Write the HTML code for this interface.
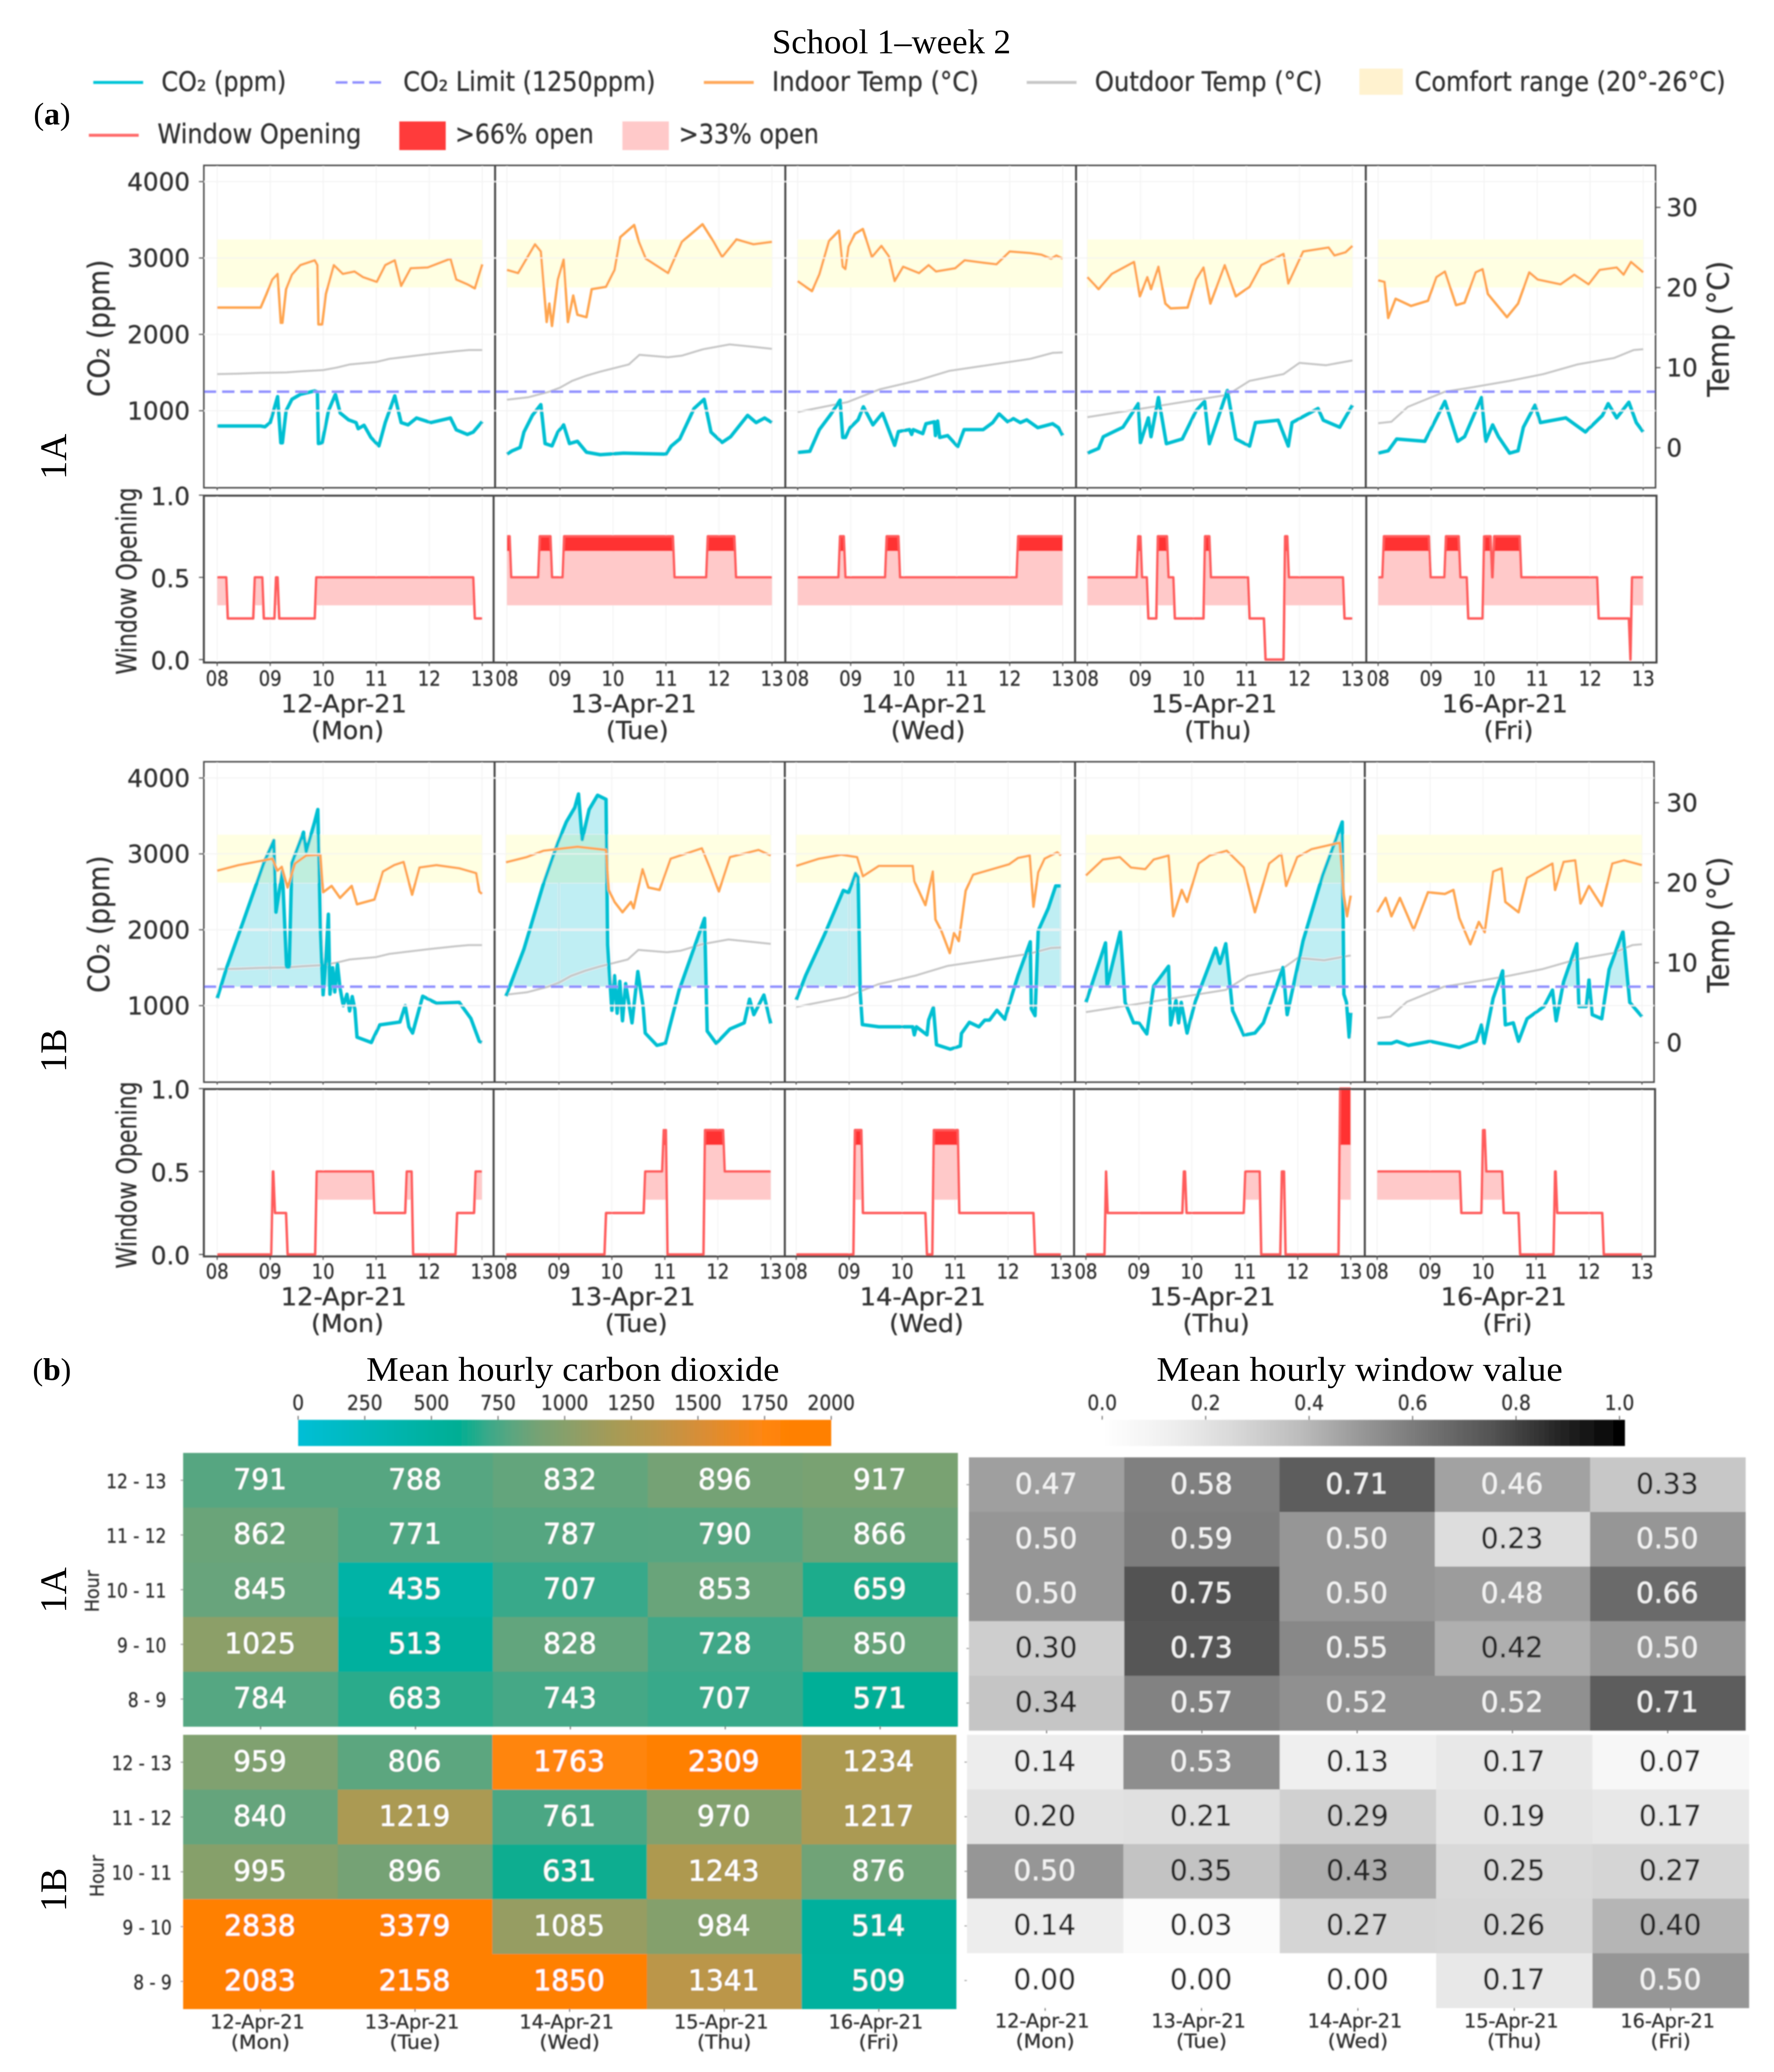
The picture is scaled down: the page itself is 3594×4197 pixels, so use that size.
<!DOCTYPE html>
<html lang="en">
<head>
<meta charset="utf-8">
<title>School 1–week 2</title>
<style>
html,body{margin:0;padding:0;background:#fff;}
svg{display:block;}
.s{font-family:"DejaVu Sans","Liberation Sans",sans-serif;fill:#333;stroke:#333;stroke-width:0.6;}
.r{font-family:"Liberation Serif",serif;fill:#000;}
</style>
</head>
<body>
<svg id="figure" xmlns="http://www.w3.org/2000/svg" width="3594" height="4197" viewBox="0 0 3594 4197">
<defs id="defs">
<filter id="soft" filterUnits="userSpaceOnUse" x="0" y="0" width="3594" height="4197"><feGaussianBlur stdDeviation="1.2"/></filter>
</defs>
<rect x="0" y="0" width="3594" height="4197" fill="#fff"/>
<text class="r" x="1564" y="108" font-size="70" textLength="484" lengthAdjust="spacingAndGlyphs">School 1–week 2</text>
<text class="r" x="68" y="252" font-size="64">(<tspan font-weight="bold">a</tspan>)</text>
<text class="r" x="66" y="2795" font-size="64">(<tspan font-weight="bold">b</tspan>)</text>

<g filter="url(#soft)">
<line x1="189" x2="290" y1="167" y2="167" stroke="#00c4d8" stroke-width="6"/>
<text class="s" x="327" y="184" font-size="54" textLength="253" lengthAdjust="spacingAndGlyphs">CO₂ (ppm)</text>
<line x1="680" x2="777" y1="167" y2="167" stroke="#8f8fff" stroke-width="5" stroke-dasharray="24 10"/>
<text class="s" x="817" y="184" font-size="54" textLength="511" lengthAdjust="spacingAndGlyphs">CO₂ Limit (1250ppm)</text>
<line x1="1426" x2="1527" y1="167" y2="167" stroke="#ffa85a" stroke-width="6"/>
<text class="s" x="1564" y="184" font-size="54" textLength="419" lengthAdjust="spacingAndGlyphs">Indoor Temp (°C)</text>
<line x1="2080" x2="2181" y1="167" y2="167" stroke="#c8c8c8" stroke-width="6"/>
<text class="s" x="2218" y="184" font-size="54" textLength="461" lengthAdjust="spacingAndGlyphs">Outdoor Temp (°C)</text>
<rect x="2754" y="139" width="88" height="53" fill="#fff2cf"/>
<text class="s" x="2866" y="184" font-size="54" textLength="630" lengthAdjust="spacingAndGlyphs">Comfort range (20°-26°C)</text>
<line x1="180" x2="281" y1="274" y2="274" stroke="#ff6a6a" stroke-width="6"/>
<text class="s" x="319" y="290" font-size="54" textLength="413" lengthAdjust="spacingAndGlyphs">Window Opening</text>
<rect x="809" y="246" width="94" height="58" fill="#ff3b3b"/>
<text class="s" x="922" y="290" font-size="54" textLength="281" lengthAdjust="spacingAndGlyphs">&gt;66% open</text>
<rect x="1261" y="246" width="94" height="58" fill="#ffc9c9"/>
<text class="s" x="1375" y="290" font-size="54" textLength="284" lengthAdjust="spacingAndGlyphs">&gt;33% open</text>
</g>

<g id="charts" filter="url(#soft)"></g>
<g id="heatmaps" filter="url(#soft)"></g>

<text class="r" transform="translate(134 925) rotate(-90)" font-size="76" text-anchor="middle">1A</text>
<text class="r" transform="translate(134 2128) rotate(-90)" font-size="76" text-anchor="middle">1B</text>
<text class="r" transform="translate(134 3221) rotate(-90)" font-size="76" text-anchor="middle">1A</text>
<text class="r" transform="translate(134 3828) rotate(-90)" font-size="76" text-anchor="middle">1B</text>
<text class="r" x="742" y="2797" font-size="70" textLength="837" lengthAdjust="spacingAndGlyphs">Mean hourly carbon dioxide</text>
<text class="r" x="2343" y="2797" font-size="70" textLength="823" lengthAdjust="spacingAndGlyphs">Mean hourly window value</text>
</svg>
<script>
/* ---------- categorical labels ---------- */
const dayLabels = ['12-Apr-21','13-Apr-21','14-Apr-21','15-Apr-21','16-Apr-21'];
const weekdayLabels = ['(Mon)','(Tue)','(Wed)','(Thu)','(Fri)'];
const hourTicks = [8,9,10,11,12,13];
const hourTickLabels = ['08','09','10','11','12','13'];
const co2Ticks = [1000,2000,3000,4000];
const tempTicks = [0,10,20,30];
const windowTicks = [0,0.5,1];
const rowLabels = ['12 - 13','11 - 12','10 - 11','9 - 10','8 - 9'];
const co2BarTicks = [0,250,500,750,1000,1250,1500,1750,2000];
const windowBarTicks = [0,0.2,0.4,0.6,0.8,1];
const co2Limit = 1250;
const comfortRange = [20,26];
const windowThresholds = [0.33,0.66];

/* ---------- outdoor temperature (°C), [hour, value] ---------- */
const outdoorMon = [[8,9.2],[8.4,9.25],[8.8,9.35],[9.3,9.4],[9.6,9.55],[10,9.7],[10.25,10],[10.5,10.4],[11,10.7],[11.25,11.1],[11.5,11.3],[12,11.7],[12.5,12.05],[12.75,12.2],[13,12.2]];
const outdoorTue = [[8,6],[8.4,6.3],[8.8,7],[9,7.5],[9.23,8.35],[9.5,9],[9.76,9.5],[10.3,10.4],[10.5,11.6],[11.04,11.3],[11.3,11.5],[11.7,12.3],[12.2,12.9],[12.65,12.6],[13,12.35]];
const outdoorWed = [[8,4.47],[8.94,5.7],[9.55,7.3],[10.26,8.4],[10.86,9.6],[11.68,10.4],[12.39,11.1],[12.81,11.84],[13,11.9]];
const outdoorThu = [[8,3.82],[8.94,4.8],[9.79,5.7],[10.64,6.6],[11.06,8.35],[11.7,9.2],[12.0,10.6],[12.5,10.3],[13,10.9]];
const outdoorFri = [[8,3.06],[8.25,3.25],[8.56,5.1],[9.26,7],[9.73,7.5],[10.48,8.35],[11.12,9.2],[11.76,10.4],[12.45,11.2],[12.82,12.2],[13,12.3]];

/* ---------- room 1A CO2 (ppm) ---------- */
const co2A_Mon = [[8,800],[8.82,800],[8.9,790],[9,845],[9.14,1185],[9.2,580],[9.23,580],[9.3,1000],[9.41,1150],[9.57,1215],[9.84,1260],[9.89,1245],[9.91,570],[9.98,580],[10.1,1000],[10.23,1215],[10.32,970],[10.48,880],[10.62,845],[10.66,765],[10.77,810],[10.9,650],[11.05,540],[11.17,845],[11.35,1195],[11.47,845],[11.6,815],[11.76,905],[12.03,845],[12.4,905],[12.51,750],[12.72,690],[12.83,720],[13,860]];
const co2A_Tue = [[8,432],[8.1,475],[8.25,520],[8.32,720],[8.48,940],[8.64,1080],[8.72,570],[8.85,540],[8.96,720],[9.07,815],[9.18,570],[9.33,600],[9.5,457],[9.76,425],[10.2,445],[11,432],[11.1,537],[11.26,630],[11.53,1030],[11.72,1150],[11.85,720],[12.06,585],[12.22,660],[12.54,940],[12.7,845],[12.86,905],[13,845]];
const co2A_Wed = [[8,454],[8.23,469],[8.41,753],[8.62,948],[8.8,1139],[8.85,650],[8.9,650],[8.99,778],[9.14,881],[9.24,1052],[9.42,815],[9.6,969],[9.83,547],[9.9,727],[10.11,753],[10.15,690],[10.18,753],[10.36,700],[10.42,830],[10.58,855],[10.6,675],[10.64,865],[10.68,650],[10.83,675],[11.02,531],[11.14,753],[11.36,753],[11.5,753],[11.68,845],[11.8,959],[11.96,856],[12.07,897],[12.2,845],[12.32,881],[12.53,778],[12.81,830],[12.92,778],[13,675]];
const co2A_Thu = [[8,445],[8.21,507],[8.3,660],[8.67,784],[8.96,1093],[9,580],[9.15,907],[9.2,660],[9.34,1173],[9.49,568],[9.79,630],[10.05,1000],[10.21,1123],[10.3,568],[10.64,1265],[10.8,630],[11.06,537],[11.17,845],[11.6,876],[11.79,537],[11.86,845],[12.35,1030],[12.45,876],[12.76,784],[13,1074]];
const co2A_Fri = [[8,445],[8.19,476],[8.35,630],[8.88,600],[9.26,1123],[9.5,600],[9.63,660],[9.95,1173],[10.03,600],[10.16,815],[10.27,660],[10.48,445],[10.64,476],[10.74,784],[10.96,1074],[11.06,845],[11.54,907],[11.91,722],[12.23,938],[12.34,1093],[12.5,907],[12.73,1111],[12.87,845],[13,722]];

/* ---------- room 1A indoor temperature (°C) ---------- */
const inA_Mon = [[8,17.5],[8.82,17.5],[8.93,19.2],[9.04,21],[9.14,21.7],[9.2,15.6],[9.23,15.6],[9.3,19.8],[9.41,21.6],[9.57,22.8],[9.84,23.4],[9.89,22.8],[9.91,15.4],[9.98,15.4],[10.05,19.2],[10.2,22.8],[10.37,21.7],[10.59,22],[10.75,21.3],[11.01,20.7],[11.17,22.8],[11.35,23.4],[11.47,20.2],[11.65,22.4],[11.97,22.5],[12.4,23.6],[12.51,21],[12.72,20.4],[12.86,19.9],[13,22.9]];
const inA_Tue = [[8,22.2],[8.21,21.8],[8.53,25.4],[8.64,24.5],[8.75,15.7],[8.8,18],[8.85,15.2],[8.96,21],[9.07,23.5],[9.15,15.7],[9.25,19],[9.33,16.6],[9.5,16.3],[9.6,19.8],[9.87,20.1],[10.03,22.2],[10.14,26.3],[10.4,27.8],[10.49,25.7],[10.62,23.6],[11.04,21.8],[11.3,25.7],[11.69,27.9],[11.9,25.7],[12.06,23.8],[12.33,26],[12.65,25.4],[13,25.7]];
const inA_Wed = [[8,20.8],[8.27,19.55],[8.41,21.66],[8.59,25.8],[8.78,27.1],[8.85,22.6],[8.9,22.3],[8.96,25.1],[9.08,26.7],[9.23,27.3],[9.4,23.8],[9.58,25.2],[9.72,23.9],[9.83,20.8],[9.99,22.6],[10.29,21.8],[10.47,22.8],[10.61,22],[10.97,22.4],[11.15,23.4],[11.5,23.1],[11.75,22.9],[12,24.5],[12.39,24.3],[12.6,24.1],[12.78,23.6],[12.88,24],[13,23.6]];
const inA_Thu = [[8,21.3],[8.21,19.8],[8.46,21.7],[8.88,23.2],[8.99,18.9],[9.13,21.3],[9.2,19.8],[9.34,22.6],[9.47,18],[9.57,17.4],[9.89,17.5],[10.05,21],[10.19,22.5],[10.32,18],[10.59,22.8],[10.8,18.9],[11.06,20.1],[11.28,22.8],[11.7,24.2],[11.79,20.5],[12.07,24.5],[12.55,25],[12.66,24],[12.87,24.4],[13,25.2]];
const inA_Fri = [[8,20.9],[8.12,20.7],[8.19,16.2],[8.33,18.6],[8.62,17.7],[8.94,18.35],[9.1,21.3],[9.26,22],[9.47,17.8],[9.63,18.1],[9.84,21.9],[9.97,22.3],[10.07,19.2],[10.43,16.3],[10.64,18],[10.85,21.9],[11.01,21],[11.44,20.4],[11.7,21.6],[11.97,20.4],[12.18,22.2],[12.5,22.5],[12.63,21.6],[12.77,23.2],[13,21.9]];

/* ---------- room 1A window position, [start hour, value] ---------- */
const winA_Mon = [[8,0.5],[8.17,0.25],[8.68,0.5],[8.85,0.25],[9.08,0.5],[9.14,0.25],[9.84,0.5],[12.83,0.25]];
const winA_Tue = [[8,0.75],[8.05,0.5],[8.59,0.75],[8.82,0.5],[9.05,0.75],[11.13,0.5],[11.76,0.75],[12.29,0.5]];
const winA_Wed = [[8,0.5],[8.77,0.75],[8.87,0.5],[9.65,0.75],[9.9,0.5],[12.13,0.75]];
const winA_Thu = [[8,0.5],[8.93,0.75],[9,0.5],[9.12,0.25],[9.3,0.75],[9.5,0.5],[9.62,0.25],[10.19,0.75],[10.3,0.5],[11.03,0.25],[11.33,0],[11.7,0.75],[11.77,0.5],[12.82,0.25]];
const winA_Fri = [[8,0.5],[8.08,0.75],[8.96,0.5],[9.25,0.75],[9.52,0.5],[9.67,0.25],[9.97,0.75],[10.12,0.5],[10.16,0.75],[10.67,0.5],[12.13,0.25],[12.73,0],[12.76,0.5]];

/* ---------- room 1B CO2 (ppm) ---------- */
const co2B_Mon = [[8,1097],[8.18,1503],[8.5,2124],[8.88,2881],[9.07,3178],[9.11,2232],[9.23,2773],[9.31,1513],[9.36,1513],[9.41,2881],[9.63,3286],[9.68,3032],[9.84,3421],[9.9,3584],[9.95,2016],[10,1140],[10.05,1600],[10.1,2205],[10.13,1150],[10.18,1500],[10.22,1180],[10.27,1550],[10.32,1230],[10.38,1000],[10.45,1150],[10.5,930],[10.55,1120],[10.6,950],[10.64,584],[10.91,514],[11.07,746],[11.45,784],[11.55,1000],[11.62,720],[11.69,638],[11.88,1124],[12.14,1032],[12.57,1043],[12.79,830],[12.95,530],[13,514]];
const co2B_Tue = [[8,1124],[8.34,1746],[8.71,2611],[8.98,3151],[9.14,3421],[9.3,3611],[9.37,3789],[9.44,3189],[9.57,3584],[9.73,3773],[9.89,3719],[9.92,1800],[10,935],[10.05,1395],[10.1,900],[10.15,1320],[10.2,800],[10.26,1290],[10.38,773],[10.49,1449],[10.59,990],[10.63,638],[10.85,476],[11.01,503],[11.27,1205],[11.75,2151],[11.8,665],[11.97,503],[12.23,692],[12.5,773],[12.6,1086],[12.68,881],[12.87,1140],[13,762]];
const co2B_Wed = [[8,1075],[8.18,1399],[8.53,1929],[8.89,2519],[8.99,2490],[9.12,2743],[9.17,2695],[9.21,1163],[9.25,750],[9.56,721],[10.2,721],[10.23,615],[10.27,721],[10.47,615],[10.5,809],[10.59,975],[10.65,485],[10.91,426],[11.1,468],[11.12,633],[11.27,780],[11.45,721],[11.56,809],[11.65,809],[11.79,939],[11.94,821],[12.02,1016],[12.19,1399],[12.42,1841],[12.44,957],[12.51,868],[12.57,1988],[12.76,2283],[12.9,2578],[13,2578]];
const co2B_Thu = [[8,1043],[8.37,1827],[8.4,1259],[8.65,1978],[8.74,1043],[8.9,773],[9,773],[9.15,627],[9.28,1259],[9.56,1519],[9.6,746],[9.7,1070],[9.75,773],[9.8,1043],[9.91,638],[10.06,1043],[10.45,1757],[10.53,1557],[10.64,1816],[10.77,935],[10.98,611],[11.19,638],[11.35,773],[11.72,1503],[11.8,881],[12.1,1854],[12.47,2719],[12.84,3421],[12.87,1151],[12.92,1043],[12.97,584],[13,908]];
const co2B_Fri = [[8,503],[8.27,503],[8.37,530],[8.59,476],[9,530],[9.55,449],[9.87,530],[9.97,746],[10.02,503],[10.19,1097],[10.37,1459],[10.42,746],[10.57,773],[10.67,530],[10.83,827],[11.15,989],[11.31,1205],[11.38,800],[11.52,1313],[11.77,1816],[11.81,989],[11.95,989],[12,1340],[12.06,881],[12.24,827],[12.38,1476],[12.64,1978],[12.77,1043],[13,854]];

/* ---------- room 1B indoor temperature (°C) ---------- */
const inB_Mon = [[8,21.5],[8.4,22.2],[9.04,23],[9.14,21.5],[9.22,22],[9.33,19.4],[9.47,22.4],[9.68,23.4],[9.95,23.5],[10,18.8],[10.16,19.6],[10.32,18.1],[10.54,19.6],[10.64,17.3],[10.97,17.9],[11.13,21.4],[11.34,22.2],[11.52,22.6],[11.68,18.5],[11.82,21.9],[12.14,22.2],[12.57,21.8],[12.89,21.2],[12.95,18.9],[13,18.6]];
const inB_Tue = [[8,22.55],[8.39,23.2],[8.71,24],[9.35,24.5],[9.89,24.1],[9.94,19.1],[10.05,17.6],[10.2,16.3],[10.36,17.6],[10.41,16.8],[10.58,21.7],[10.69,19.4],[10.9,19.1],[11.11,23],[11.7,24.3],[11.86,21.7],[12.02,18.9],[12.23,23.2],[12.77,24.1],[13,23.4]];
const inB_Wed = [[8,22.1],[8.43,23],[8.85,23.5],[9.15,23.2],[9.26,20.8],[9.56,22.1],[10.2,22.1],[10.23,20.2],[10.44,17.2],[10.58,21.4],[10.63,15.4],[10.74,14],[10.9,11.2],[10.98,13.7],[11.07,12.7],[11.2,19],[11.34,21],[12.02,22.3],[12.19,23.1],[12.41,23.4],[12.48,17],[12.57,21.3],[12.69,23],[12.93,23.8],[13,23.4]];
const inB_Thu = [[8,20.9],[8.32,22.9],[8.64,23.2],[8.85,21.9],[9.12,21.7],[9.28,22.9],[9.56,23.4],[9.65,15.8],[9.81,19.1],[9.91,17.6],[10.13,22.4],[10.34,23.4],[10.66,24],[10.98,21.9],[11.19,16.3],[11.46,22.4],[11.69,23.6],[11.78,19.6],[11.99,23.2],[12.26,24.2],[12.79,25],[12.87,18.4],[12.93,15.8],[13,18.4]];
const inB_Fri = [[8,16.3],[8.16,18.1],[8.27,15.8],[8.43,18.1],[8.69,14.1],[8.96,18.8],[9.28,18.6],[9.44,19.1],[9.55,15.6],[9.76,12.3],[9.92,15.1],[10.03,13.8],[10.19,21.4],[10.35,21.8],[10.42,17.6],[10.67,16.3],[10.83,20.6],[11.31,22.4],[11.36,19.1],[11.52,22.6],[11.74,22.8],[11.84,17.4],[12,19.6],[12.24,17.1],[12.44,22.4],[12.66,22.8],[13,22.2]];

/* ---------- room 1B window position, [start hour, value] ---------- */
const winB_Mon = [[8,0],[9.02,0.5],[9.06,0.25],[9.3,0],[9.85,0.5],[10.94,0.25],[11.55,0.5],[11.67,0],[12.5,0.25],[12.85,0.5]];
const winB_Tue = [[8,0],[9.86,0.25],[10.6,0.5],[10.95,0.75],[11.02,0],[11.73,0.75],[12.1,0.5]];
const winB_Wed = [[8,0],[9.08,0.75],[9.23,0.25],[10.44,0],[10.57,0.75],[11.05,0.25],[12.48,0]];
const winB_Thu = [[8,0],[8.35,0.5],[8.38,0.25],[9.82,0.5],[9.87,0.25],[10.98,0.5],[11.28,0],[11.67,0.5],[11.74,0],[12.77,1]];
const winB_Fri = [[8,0.5],[9.56,0.25],[9.97,0.75],[10.03,0.5],[10.36,0.25],[10.67,0],[11.33,0.5],[11.37,0.25],[12.25,0]];

/* ---------- heatmap values (rows top to bottom, columns Mon to Fri) ---------- */
const heatCo2A = [[791,788,832,896,917],[862,771,787,790,866],[845,435,707,853,659],[1025,513,828,728,850],[784,683,743,707,571]];
const heatCo2B = [[959,806,1763,2309,1234],[840,1219,761,970,1217],[995,896,631,1243,876],[2838,3379,1085,984,514],[2083,2158,1850,1341,509]];
const heatWinA = [[0.47,0.58,0.71,0.46,0.33],[0.50,0.59,0.50,0.23,0.50],[0.50,0.75,0.50,0.48,0.66],[0.30,0.73,0.55,0.42,0.50],[0.34,0.57,0.52,0.52,0.71]];
const heatWinB = [[0.14,0.53,0.13,0.17,0.07],[0.20,0.21,0.29,0.19,0.17],[0.50,0.35,0.43,0.25,0.27],[0.14,0.03,0.27,0.26,0.40],[0.00,0.00,0.00,0.17,0.50]];

const cmapCo2 = [[0,'#00bfd6'],[600,'#00ae94'],[660,'#1eac8c'],[707,'#38a98a'],[800,'#5aa680'],[900,'#76a274'],[1000,'#87a06b'],[1100,'#999c60'],[1220,'#ab9a52'],[1340,'#bb964a'],[1500,'#d68e38'],[1750,'#ff8610'],[1850,'#ff8000'],[2000,'#ff8000']];
const cmapGrey = [[0,'#ffffff'],[0.125,'#f0f0f0'],[0.25,'#d9d9d9'],[0.375,'#bdbdbd'],[0.5,'#969696'],[0.625,'#737373'],[0.75,'#525252'],[0.875,'#252525'],[1,'#000000']];

/* ---------- drawing ---------- */
const NS = 'http://www.w3.org/2000/svg';
const defs = document.getElementById('defs');
const chartsRoot = document.getElementById('charts');
const heatRoot = document.getElementById('heatmaps');

function mk(parent, tag, name, attrs) {
  const el = document.createElementNS(NS, tag);
  
  
  for (const k in attrs) el.setAttribute(k, attrs[k]);
  parent.appendChild(el);
  return el;
}
function label(parent, name, str, x, y, size, anchor, sx, fill) {
  const el = mk(parent, 'text', name, {
    class: 's', 'font-size': size, 'text-anchor': anchor || 'middle',
    transform: 'translate(' + x + ' ' + y + ') scale(' + (sx || 1) + ' 1)'
  });
  if (fill) { el.style.fill = fill; el.style.stroke = fill; }
  el.textContent = str;
  return el;
}
function linePath(pts, fx, fy) {
  return pts.map((p, i) => (i ? 'L' : 'M') + fx(p[0]).toFixed(1) + ' ' + fy(p[1]).toFixed(1)).join('');
}
function stepPoints(steps) {
  const out = [];
  steps.forEach((s, i) => {
    const next = i + 1 < steps.length ? steps[i + 1][0] : 13;
    out.push([i === 0 ? s[0] : s[0] + 0.03, s[1]]);
    out.push([next, s[1]]);
  });
  return out;
}
function clipRect(id, x, y, w, h) {
  const c = document.createElementNS(NS, 'clipPath');
  c.setAttribute('id', id);
  const r = document.createElementNS(NS, 'rect');
  r.setAttribute('x', x); r.setAttribute('y', y); r.setAttribute('width', w); r.setAttribute('height', h);
  c.appendChild(r);
  defs.appendChild(c);
}

const rows = [
  { id: '1a', starts: [440,1027,1616,2203,2792], hourPx: 107.4,
    co2Y: c => 832 - (c - 1000) * 0.1547, tempY: t => 907 - 16.23 * t, winY: v => 1336 - 333 * v,
    top: 335, bottom: 988, wTop: 1004, wBottom: 1342, divs: [1003,1591,2180,2767], wDivs: [1000,1591,2178,2768], right: 3354, wRight: 3356,
    tickBase: 1389, dateBase: 1443, dayBase: 1497, co2Lab: 665, winLab: 1177,
    co2: [co2A_Mon,co2A_Tue,co2A_Wed,co2A_Thu,co2A_Fri], indoor: [inA_Mon,inA_Tue,inA_Wed,inA_Thu,inA_Fri], win: [winA_Mon,winA_Tue,winA_Wed,winA_Thu,winA_Fri] },
  { id: '1b', starts: [440,1025,1613,2200,2790], hourPx: 107.3,
    co2Y: c => 2037 - (c - 1000) * 0.1537, tempY: t => 2112 - 16.2 * t, winY: v => 2541 - 336 * v,
    top: 1543, bottom: 2192, wTop: 2206, wBottom: 2545, divs: [1002,1590,2178,2765], wDivs: [1000,1590,2176,2765], right: 3351, wRight: 3353,
    tickBase: 2590, dateBase: 2644, dayBase: 2698, co2Lab: 1872, winLab: 2380,
    co2: [co2B_Mon,co2B_Tue,co2B_Wed,co2B_Thu,co2B_Fri], indoor: [inB_Mon,inB_Tue,inB_Wed,inB_Thu,inB_Fri], win: [winB_Mon,winB_Tue,winB_Wed,winB_Thu,winB_Fri] }
];
const outdoorAll = [outdoorMon,outdoorTue,outdoorWed,outdoorThu,outdoorFri];
const AXIS = '#444';
const LEFT = 413;

rows.forEach(R => {
  const g = mk(chartsRoot, 'g', 'room-' + R.id + '-charts', {});
  const limY = R.co2Y(co2Limit);
  clipRect('above-' + R.id, 0, 0, 3594, limY);
  clipRect('band33-' + R.id, 0, R.winY(windowThresholds[1]), 3594, R.winY(windowThresholds[0]) - R.winY(windowThresholds[1]));
  clipRect('band66-' + R.id, 0, R.wTop, 3594, R.winY(windowThresholds[1]) - R.wTop);

  R.starts.forEach((x0, d) => {
    const fx = h => x0 + (h - 8) * R.hourPx;
    const day = 'room-' + R.id + '-' + dayLabels[d].toLowerCase();
    const p = mk(g, 'g', day + '-panel', {});
    /* grid */
    hourTicks.forEach(h => {
      mk(p, 'line', 'grid-line-hour', { x1: fx(h), x2: fx(h), y1: R.top, y2: R.bottom, stroke: '#f3f3f3', 'stroke-width': 2 });
      mk(p, 'line', 'window-grid-line-hour', { x1: fx(h), x2: fx(h), y1: R.wTop, y2: R.wBottom, stroke: '#f3f3f3', 'stroke-width': 2 });
    });
    /* comfort band */
    mk(p, 'rect', 'comfort-band', { x: fx(8), width: fx(13) - fx(8), y: R.tempY(comfortRange[1]), height: R.tempY(comfortRange[0]) - R.tempY(comfortRange[1]), fill: '#ffffe2' });
    /* CO2 exceedance fill */
    const co2Pts = R.co2[d];
    const area = linePath(co2Pts, fx, R.co2Y) + 'L' + fx(co2Pts[co2Pts.length - 1][0]) + ' ' + limY + 'L' + fx(co2Pts[0][0]) + ' ' + limY + 'Z';
    mk(p, 'path', 'co2-exceedance-fill', { d: area, fill: '#00bcd0', 'fill-opacity': 0.25, 'clip-path': 'url(#above-' + R.id + ')' });
    /* outdoor, CO2, indoor */
    mk(p, 'path', 'outdoor-temp-line', { d: linePath(outdoorAll[d], fx, R.tempY), fill: 'none', stroke: '#c6c6c6', 'stroke-width': 4 });
    mk(p, 'path', 'co2-line', { d: linePath(co2Pts, fx, R.co2Y), fill: 'none', stroke: '#00bfd2', 'stroke-width': 7, 'stroke-linejoin': 'round' });
    mk(p, 'path', 'indoor-temp-line', { d: linePath(R.indoor[d], fx, R.tempY), fill: 'none', stroke: '#ffa550', 'stroke-width': 5, 'stroke-linejoin': 'round' });
    /* window panel */
    const stepPts = stepPoints(R.win[d]);
    const under = linePath(stepPts, fx, R.winY) + 'L' + fx(13) + ' ' + R.winY(0) + 'L' + fx(8) + ' ' + R.winY(0) + 'Z';
    mk(p, 'path', 'window-over-33-fill', { d: under, fill: '#ffc9c9', 'clip-path': 'url(#band33-' + R.id + ')' });
    mk(p, 'path', 'window-over-66-fill', { d: under, fill: '#ff3333', 'clip-path': 'url(#band66-' + R.id + ')' });
    mk(p, 'path', 'window-line', { d: linePath(stepPts, fx, R.winY), fill: 'none', stroke: '#ff5c5c', 'stroke-width': 5, 'stroke-linejoin': 'round' });
    /* x ticks and labels */
    hourTicks.forEach((h, i) => {
      mk(p, 'line', 'x-tick', { x1: fx(h), x2: fx(h), y1: R.bottom, y2: R.bottom + 5, stroke: AXIS, 'stroke-width': 2 });
      mk(p, 'line', 'window-x-tick', { x1: fx(h), x2: fx(h), y1: R.wBottom, y2: R.wBottom + 7, stroke: AXIS, 'stroke-width': 2 });
      label(p, 'x-tick-label', hourTickLabels[i], fx(h), R.tickBase, 42, 'middle', 0.87);
    });
    label(p, 'date-label', dayLabels[d], fx(10.39), R.dateBase, 50, 'middle', 1.04);
    label(p, 'weekday-label', weekdayLabels[d], fx(10.46), R.dayBase, 50, 'middle', 1.02);
  });

  /* CO2 limit */
  mk(g, 'line', 'co2-limit-line', { x1: LEFT, x2: R.right, y1: limY, y2: limY, stroke: '#8f8fff', 'stroke-width': 5, 'stroke-dasharray': '25 12' });
  /* frames */
  mk(g, 'rect', 'co2-axes-frame', { x: LEFT, y: R.top, width: R.right - LEFT, height: R.bottom - R.top, fill: 'none', stroke: AXIS, 'stroke-width': 3 });
  mk(g, 'rect', 'window-axes-frame', { x: LEFT, y: R.wTop, width: R.wRight - LEFT, height: R.wBottom - R.wTop, fill: 'none', stroke: AXIS, 'stroke-width': 4 });
  R.divs.forEach(x => mk(g, 'line', 'day-divider', { x1: x, x2: x, y1: R.top, y2: R.bottom, stroke: AXIS, 'stroke-width': 4 }));
  R.wDivs.forEach(x => mk(g, 'line', 'window-day-divider', { x1: x, x2: x, y1: R.wTop, y2: R.wBottom, stroke: AXIS, 'stroke-width': 4 }));
  /* y axes */
  co2Ticks.forEach(c => {
    mk(g, 'line', 'co2-tick', { x1: LEFT - 10, x2: LEFT, y1: R.co2Y(c), y2: R.co2Y(c), stroke: AXIS, 'stroke-width': 2 });
    mk(g, 'line', 'co2-grid-line', { x1: LEFT, x2: R.right, y1: R.co2Y(c), y2: R.co2Y(c), stroke: '#f3f3f3', 'stroke-width': 2 });
    label(g, 'co2-tick-label', String(c), 385, R.co2Y(c) + 18, 50, 'end');
  });
  tempTicks.forEach(t => {
    mk(g, 'line', 'temp-tick', { x1: R.right, x2: R.right + 10, y1: R.tempY(t), y2: R.tempY(t), stroke: AXIS, 'stroke-width': 2 });
    label(g, 'temp-tick-label', String(t), 3376, R.tempY(t) + 18, 50, 'start');
  });
  windowTicks.forEach(v => {
    mk(g, 'line', 'window-tick', { x1: LEFT - 10, x2: LEFT, y1: R.winY(v), y2: R.winY(v), stroke: AXIS, 'stroke-width': 2 });
    label(g, 'window-tick-label', v.toFixed(1), 385, R.winY(v) + 20, 50, 'end');
  });
  /* axis titles */
  const t1 = mk(g, 'text', 'co2-axis-title', { class: 's', 'font-size': 60, 'text-anchor': 'middle', transform: 'translate(221 ' + R.co2Lab + ') rotate(-90)', textLength: 278, lengthAdjust: 'spacingAndGlyphs' });
  t1.textContent = 'CO₂ (ppm)';
  const t2 = mk(g, 'text', 'window-axis-title', { class: 's', 'font-size': 56, 'text-anchor': 'middle', transform: 'translate(276 ' + R.winLab + ') rotate(-90)', textLength: 379, lengthAdjust: 'spacingAndGlyphs' });
  t2.textContent = 'Window Opening';
  const t3 = mk(g, 'text', 'temp-axis-title', { class: 's', 'font-size': 60, 'text-anchor': 'middle', transform: 'translate(3502 ' + (R.co2Lab + 1) + ') rotate(-90)', textLength: 275, lengthAdjust: 'spacingAndGlyphs' });
  t3.textContent = 'Temp (°C)';
});

/* ---------- heatmaps ---------- */
function hex(c) { return [1,3,5].map(i => parseInt(c.substr(i, 2), 16)); }
function cmapColor(cmap, v) {
  if (v <= cmap[0][0]) return cmap[0][1];
  for (let i = 1; i < cmap.length; i++) {
    if (v <= cmap[i][0]) {
      const f = (v - cmap[i-1][0]) / (cmap[i][0] - cmap[i-1][0]);
      const a = hex(cmap[i-1][1]), b = hex(cmap[i][1]);
      return 'rgb(' + a.map((x, k) => Math.round(x + (b[k] - x) * f)).join(',') + ')';
    }
  }
  return cmap[cmap.length - 1][1];
}
function drawHeat(o) {
  const g = mk(heatRoot, 'g', o.name, {});
  const cw = o.w / 5, rh = o.h / 5;
  o.values.forEach((row, r) => row.forEach((v, c) => {
    mk(g, 'rect', 'heat-cell', { x: o.x + c * cw, y: o.y + r * rh, width: cw + 0.6, height: rh + 0.6, fill: cmapColor(o.cmap, v) });
    const textFill = o.textColor(v);
    label(g, 'heat-value', o.fmt(v), o.x + (c + 0.5) * cw - 1, o.y + (r + 0.5) * rh + 18, 58, 'middle', 0.98, textFill);
  }));
  for (let c = 0; c < 5; c++) mk(g, 'line', 'heat-x-tick', { x1: o.x + (c + 0.5) * cw, x2: o.x + (c + 0.5) * cw, y1: o.y + o.h, y2: o.y + o.h + 6, stroke: '#666', 'stroke-width': 2 });
  for (let r = 0; r < 5; r++) mk(g, 'line', 'heat-y-tick', { x1: o.x - 5, x2: o.x, y1: o.y + (r + 0.5) * rh, y2: o.y + (r + 0.5) * rh, stroke: '#999', 'stroke-width': 2 });
  if (o.rowRight) rowLabels.forEach((s, r) => label(g, 'heat-row-label', s, o.rowRight, o.y + (r + 0.5) * rh + 16, 40, 'end', 0.86));
  if (o.hourX) {
    const t = mk(g, 'text', 'heat-hour-axis-title', { class: 's', 'font-size': 38, 'text-anchor': 'middle', transform: 'translate(' + o.hourX + ' ' + o.hourY + ') rotate(-90)', textLength: 85, lengthAdjust: 'spacingAndGlyphs' });
    t.textContent = 'Hour';
  }
  if (o.dateBase) {
    for (let c = 0; c < 5; c++) {
      label(g, 'heat-date-label', dayLabels[c], o.x + (c + 0.5) * cw - 6, o.dateBase, 39, 'middle');
      label(g, 'heat-weekday-label', weekdayLabels[c], o.x + (c + 0.5) * cw, o.dateBase + 41, 39, 'middle', 1.06);
    }
  }
}
const whiteText = () => '#fff';
const greyText = v => (v >= 0.45 ? '#f2f2f2' : '#262626');
drawHeat({ name: 'co2-heatmap-1a', values: heatCo2A, x: 371, y: 2943, w: 1569, h: 554, cmap: cmapCo2, textColor: whiteText, fmt: v => String(v), rowRight: 337, hourX: 200, hourY: 3223 });
drawHeat({ name: 'co2-heatmap-1b', values: heatCo2B, x: 371, y: 3514, w: 1566, h: 555, cmap: cmapCo2, textColor: whiteText, fmt: v => String(v), rowRight: 348, hourX: 210, hourY: 3800, dateBase: 4109 });
drawHeat({ name: 'window-heatmap-1a', values: heatWinA, x: 1963, y: 2952, w: 1573, h: 553, cmap: cmapGrey, textColor: greyText, fmt: v => v.toFixed(2) });
drawHeat({ name: 'window-heatmap-1b', values: heatWinB, x: 1959, y: 3514, w: 1584, h: 553, cmap: cmapGrey, textColor: greyText, fmt: v => v.toFixed(2), dateBase: 4107 });

function drawBar(name, cmap, x, w, ticks, tickX, fmt) {
  const id = name + '-gradient';
  const grad = document.createElementNS(NS, 'linearGradient');
  grad.setAttribute('id', id);
  const max = cmap[cmap.length - 1][0];
  cmap.forEach(s => {
    const st = document.createElementNS(NS, 'stop');
    st.setAttribute('offset', s[0] / max);
    st.setAttribute('stop-color', s[1]);
    grad.appendChild(st);
  });
  defs.appendChild(grad);
  const g = mk(heatRoot, 'g', name, {});
  mk(g, 'rect', 'colorbar-ramp', { x: x, y: 2876, width: w, height: 53, fill: 'url(#' + id + ')' });
  ticks.forEach(t => {
    mk(g, 'line', 'colorbar-tick', { x1: tickX(t), x2: tickX(t), y1: 2868, y2: 2876, stroke: '#666', 'stroke-width': 2 });
    label(g, 'colorbar-tick-label', fmt(t), tickX(t), 2856, 42, 'middle', 0.9);
  });
}
drawBar('co2-colorbar', cmapCo2, 604, 1080, co2BarTicks, v => 604 + v * 0.54, v => String(v));
drawBar('window-colorbar', cmapGrey, 2233, 1059, windowBarTicks, v => 2233 + v * 1048, v => v.toFixed(1));
</script>
</body>
</html>
